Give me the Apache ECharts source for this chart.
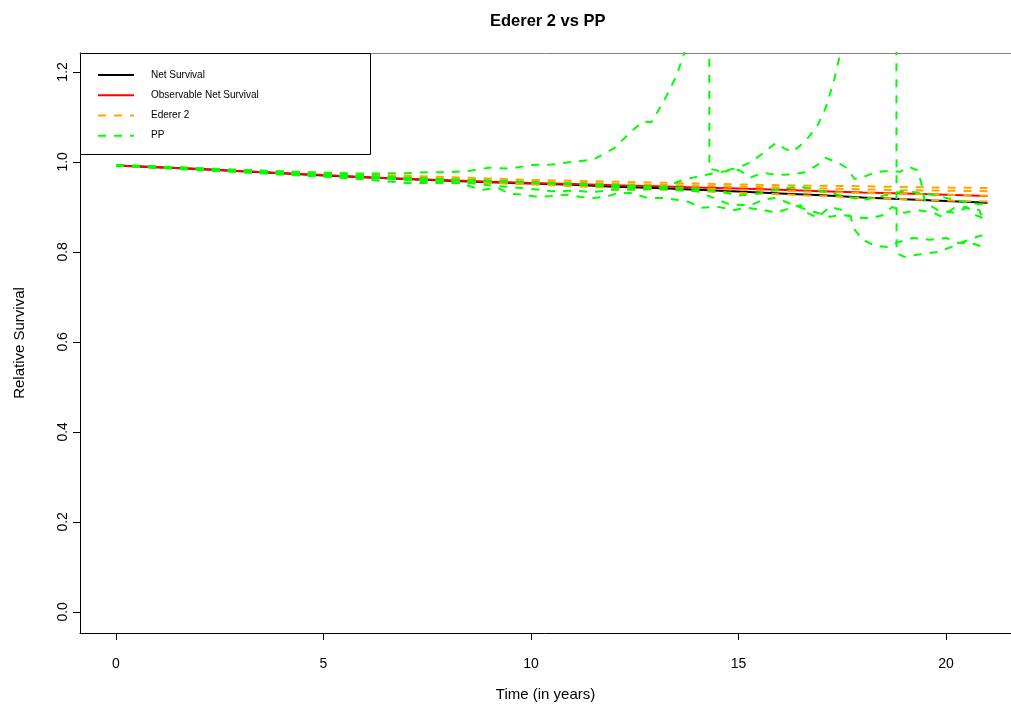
<!DOCTYPE html>
<html>
<head>
<meta charset="utf-8">
<title>Ederer 2 vs PP</title>
<script src="https://cdn.jsdelivr.net/npm/echarts@6/dist/echarts.min.js"></script>
<style>
  html, body { margin: 0; padding: 0; background: #fff; }
  #chart { width: 1011px; height: 707px; }
</style>
</head>
<body>
<div id="chart"></div>
<script>
// yearly grid used by the net survival / Ederer 2 curves
var years = [0,1,2,3,4,5,6,7,8,9,10,11,12,13,14,15,16,17,18,19,20,21];

var netSurvival   = [0.992,0.988,0.984,0.979,0.975,0.970,0.966,0.962,0.958,0.955,0.952,0.949,0.945,0.942,0.938,0.934,0.930,0.926,0.921,0.917,0.913,0.909];
var observableNet = [0.992,0.988,0.984,0.980,0.975,0.971,0.966,0.962,0.959,0.956,0.953,0.951,0.948,0.946,0.943,0.941,0.938,0.935,0.932,0.930,0.927,0.924];

// Ederer 2 estimates (one per sample)
var ederer2A = [0.993,0.989,0.986,0.982,0.979,0.975,0.972,0.969,0.966,0.963,0.960,0.958,0.956,0.954,0.952,0.950,0.948,0.947,0.946,0.944,0.943,0.942];
var ederer2B = [0.992,0.988,0.984,0.980,0.976,0.972,0.968,0.965,0.962,0.959,0.956,0.954,0.951,0.949,0.947,0.945,0.943,0.941,0.939,0.937,0.936,0.935];
var ederer2C = [0.992,0.988,0.983,0.979,0.974,0.970,0.966,0.961,0.957,0.954,0.951,0.948,0.946,0.943,0.941,0.938,0.936,0.933,0.931,0.929,0.927,0.925];
var ederer2D = [0.991,0.987,0.982,0.978,0.973,0.969,0.965,0.961,0.957,0.953,0.950,0.946,0.942,0.939,0.935,0.931,0.928,0.924,0.920,0.917,0.914,0.912];

// Pohar-Perme estimates, [year, value]
var ppA = [[0,0.993],[1,0.99],[2,0.986],[3,0.982],[4,0.979],[5,0.976],[6,0.974],[7,0.975],[7.5,0.977],[8,0.977],[8.5,0.980],[9,0.987],[9.5,0.985],[10,0.993],[10.5,0.994],[11,1.0],[11.5,1.005],[12,1.03],[12.4,1.066],[12.7,1.09],[12.9,1.088],[13.2,1.135],[13.5,1.19],[13.8,1.27],[14.0,1.45],[14.28,2.6],[14.3,0.985],[14.6,0.978],[15.0,0.988],[15.3,0.999],[15.6,1.02],[15.9,1.042],[16.1,1.03],[16.3,1.022],[16.6,1.045],[16.9,1.08],[17.1,1.12],[17.3,1.18],[17.5,1.26],[17.8,1.5],[18.3,2.2],[18.79,2.6],[18.81,0.797],[19.0,0.789],[19.4,0.795],[19.8,0.80],[20.1,0.81],[20.4,0.822],[20.7,0.832],[20.9,0.838]];
var ppB = [[0,0.992],[1,0.987],[2,0.983],[3,0.978],[4,0.974],[5,0.969],[6,0.965],[7,0.96],[7.5,0.957],[8,0.955],[8.5,0.953],[9,0.948],[9.5,0.944],[10,0.94],[10.5,0.935],[11,0.936],[11.5,0.933],[12,0.938],[12.5,0.938],[13,0.94],[13.3,0.947],[13.6,0.958],[13.9,0.965],[14.2,0.971],[14.6,0.978],[15.0,0.982],[15.3,0.966],[15.6,0.976],[15.9,0.971],[16.3,0.972],[16.6,0.977],[16.9,0.993],[17.1,1.009],[17.4,0.998],[17.6,0.987],[17.8,0.962],[18.0,0.966],[18.3,0.977],[18.6,0.98],[18.9,0.978],[19.1,0.989],[19.3,0.982],[19.4,0.955],[19.45,0.93],[19.5,0.91],[19.8,0.893],[20.2,0.887],[20.5,0.898],[20.8,0.893],[20.9,0.871]];
var ppC = [[0,0.992],[1,0.987],[2,0.982],[3,0.977],[4,0.972],[5,0.967],[6,0.961],[7,0.953],[7.5,0.953],[8,0.953],[8.3,0.953],[8.5,0.947],[8.8,0.938],[9.2,0.942],[9.5,0.929],[9.8,0.927],[10.2,0.922],[10.5,0.924],[10.9,0.927],[11.2,0.922],[11.5,0.92],[11.8,0.922],[12.1,0.931],[12.4,0.931],[12.8,0.92],[13.2,0.92],[13.5,0.916],[13.8,0.911],[14.1,0.898],[14.5,0.9],[14.9,0.893],[15.2,0.898],[15.6,0.893],[15.9,0.887],[16.2,0.896],[16.5,0.904],[16.6,0.889],[16.9,0.876],[17.2,0.9],[17.5,0.893],[17.7,0.878],[17.8,0.849],[18.0,0.827],[18.3,0.813],[18.6,0.811],[18.8,0.82],[19.2,0.831],[19.6,0.827],[20.0,0.831],[20.3,0.82],[20.6,0.82],[20.9,0.811]];
var ppD = [[0,0.992],[1,0.988],[2,0.984],[3,0.98],[4,0.976],[5,0.972],[6,0.968],[7,0.964],[8,0.96],[9,0.957],[10,0.954],[11,0.95],[12,0.945],[13,0.94],[14,0.935],[14.4,0.92],[14.8,0.905],[15.3,0.904],[15.6,0.916],[15.9,0.92],[16.3,0.905],[16.6,0.895],[16.9,0.887],[17.2,0.878],[17.5,0.882],[17.9,0.876],[18.2,0.875],[18.5,0.882],[18.7,0.9],[19.0,0.887],[19.3,0.893],[19.7,0.887],[19.9,0.878],[20.2,0.898],[20.5,0.9],[20.7,0.882],[20.9,0.875]];
var ppE = [[0,0.993],[1,0.989],[2,0.985],[3,0.981],[4,0.977],[5,0.973],[6,0.969],[7,0.965],[8,0.961],[9,0.958],[10,0.955],[11,0.952],[12,0.949],[13,0.945],[14,0.94],[14.5,0.935],[15,0.925],[15.5,0.93],[16,0.94],[16.5,0.945],[17,0.935],[17.5,0.925],[18,0.915],[18.5,0.925],[19,0.935],[19.5,0.93],[20,0.92],[20.5,0.91],[20.9,0.905]];

var xTicks = [0, 5, 10, 15, 20];
var yTicks = [0, 0.2, 0.4, 0.6, 0.8, 1.0, 1.2];

var font = '"Liberation Sans", Arial, Helvetica, sans-serif';

function yearly(vals) {
    return vals.map(function (v, i) { return [years[i], v]; });
}

function curve(name, data, color, dashed, z) {
    return {
        name: name,
        type: 'line',
        data: data,
        xAxisIndex: 0,
        symbol: 'none',
        z: z,
        lineStyle: { color: color, width: 2, type: dashed ? [8, 8] : 'solid' },
        itemStyle: { color: color },
        silent: true
    };
}

var chart = echarts.init(document.getElementById('chart'));
chart.setOption({
    animation: false,
    title: {
        text: 'Ederer 2 vs PP',
        left: 485, top: 8,
        textStyle: { fontFamily: font, fontSize: 16.5, fontWeight: 'bold', color: '#000' }
    },
    // plot region runs past the right edge of the picture
    grid: { left: 80, top: 53, right: 0, bottom: 74 },
    legend: {
        orient: 'vertical', left: 97, top: 69.5, padding: 0,
        itemWidth: 36, itemHeight: 14, itemGap: 9,
        selectedMode: false,
        data: ['Net Survival', 'Observable Net Survival', 'Ederer 2', 'PP'],
        itemStyle: { opacity: 0 },
        textStyle: { fontFamily: font, fontSize: 10, color: '#000', padding: [0, 0, 0, 12] }
    },
    graphic: [{
        type: 'rect', z: 10,
        shape: { x: 80.5, y: 53.5, width: 290, height: 101 },
        style: { fill: 'none', stroke: '#000', lineWidth: 1 }
    }],
    xAxis: [{
        type: 'value', min: -0.867, max: 21.566,
        name: 'Time (in years)', nameLocation: 'middle', nameGap: 54,
        nameTextStyle: { fontFamily: font, fontSize: 15, color: '#000' },
        axisLine: { onZero: false, lineStyle: { color: '#000', width: 1 } },
        axisTick: { customValues: xTicks, length: 7, lineStyle: { color: '#000' } },
        axisLabel: { customValues: xTicks, margin: 24, fontFamily: font, fontSize: 14, color: '#000' },
        splitLine: { show: false }
    }, {
        // top edge of the plot box
        type: 'value', position: 'top', min: -0.867, max: 21.566,
        axisLine: { onZero: false, lineStyle: { color: '#808080', width: 1 } },
        axisTick: { show: false },
        axisLabel: { show: false },
        splitLine: { show: false }
    }],
    yAxis: {
        type: 'value', min: -0.047, max: 1.242,
        name: 'Relative Survival', nameLocation: 'middle', nameGap: 53, nameRotate: 90,
        nameTextStyle: { fontFamily: font, fontSize: 15, color: '#000' },
        axisLine: { onZero: false, lineStyle: { color: '#000', width: 1 } },
        axisTick: { customValues: yTicks, length: 7, lineStyle: { color: '#000' } },
        axisLabel: {
            customValues: yTicks, rotate: 90, margin: 10,
            fontFamily: font, fontSize: 14, color: '#000',
            formatter: function (v) { return v.toFixed(1); }
        },
        splitLine: { show: false }
    },
    series: [
        curve('Net Survival', yearly(netSurvival), '#000000', false, 2),
        curve('Observable Net Survival', yearly(observableNet), '#ff0000', false, 3),
        curve('Ederer 2', yearly(ederer2A), '#ffa500', true, 4),
        curve('Ederer 2', yearly(ederer2B), '#ffa500', true, 4),
        curve('Ederer 2', yearly(ederer2C), '#ffa500', true, 4),
        curve('Ederer 2', yearly(ederer2D), '#ffa500', true, 4),
        curve('PP', ppA, '#00ff00', true, 5),
        curve('PP', ppB, '#00ff00', true, 5),
        curve('PP', ppC, '#00ff00', true, 5),
        curve('PP', ppD, '#00ff00', true, 5),
        curve('PP', ppE, '#00ff00', true, 5)
    ]
});
</script>
</body>
</html>
